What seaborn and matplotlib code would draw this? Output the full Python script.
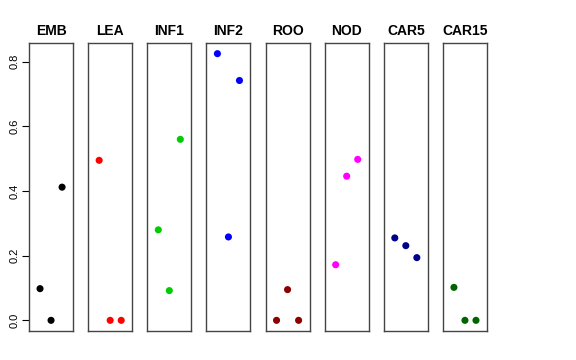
import matplotlib
matplotlib.use('Agg')
import matplotlib.pyplot as plt
import seaborn as sns
import pandas as pd

# Dữ liệu
TISSUES = ['EMB', 'LEA', 'INF1', 'INF2', 'ROO', 'NOD', 'CAR5', 'CAR15']
COLORS = ['black', 'red', '#00CD00', 'blue', '#8B0000', 'magenta', '#00008B', '#006400']
POSITIONS = [1, 2, 3]
VALUES = {
    'EMB': [0.098, 0.0, 0.412],
    'LEA': [0.495, 0.0, 0.0],
    'INF1': [0.280, 0.092, 0.560],
    'INF2': [0.825, 0.258, 0.742],
    'ROO': [0.0, 0.095, 0.0],
    'NOD': [0.172, 0.446, 0.498],
    'CAR5': [0.255, 0.231, 0.194],
    'CAR15': [0.102, 0.0, 0.0],
}
Y_TICKS = [0.0, 0.2, 0.4, 0.6, 0.8]

rows = []
for t in TISSUES:
    for p, v in zip(POSITIONS, VALUES[t]):
        rows.append({'tissue': t, 'pos': p, 'value': v})
df = pd.DataFrame(rows)

sns.set_style('white')
plt.rcParams['font.family'] = ['Liberation Sans', 'DejaVu Sans']
plt.rcParams['text.color'] = 'black'
plt.rcParams['axes.labelcolor'] = 'black'
plt.rcParams['ytick.color'] = 'black'

fig, axes = plt.subplots(1, len(TISSUES), figsize=(5.76, 3.6), dpi=100, sharey=True)
fig.subplots_adjust(left=29/576, right=487/576, top=1 - 43/360, bottom=1 - 331/360, wspace=15/44)

ymax = df['value'].max()
pad = ymax * 0.04
for i, (ax, t, c) in enumerate(zip(axes, TISSUES, COLORS)):
    sns.scatterplot(data=df[df['tissue'] == t], x='pos', y='value', color=c,
                    s=26, edgecolor='none', ax=ax)
    ax.set_xlim(0, 4)
    ax.set_ylim(-pad, ymax + pad)
    ax.set_xticks([])
    ax.set_xlabel('')
    ax.set_ylabel('')
    ax.set_title(t, fontsize=10, fontweight='bold', pad=6, color='black')
    for sp in ax.spines.values():
        sp.set_color('#444444')
        sp.set_linewidth(1)
    if i == 0:
        ax.set_yticks(Y_TICKS)
        ax.set_yticklabels(['%.1f' % y for y in Y_TICKS], rotation=90, va='center', fontsize=8)
        ax.tick_params(axis='y', left=True, length=5, width=0.8, pad=2, colors='black')
    else:
        ax.tick_params(axis='y', left=False, labelleft=False)

plt.savefig('out.png', dpi=100)
plt.close()
